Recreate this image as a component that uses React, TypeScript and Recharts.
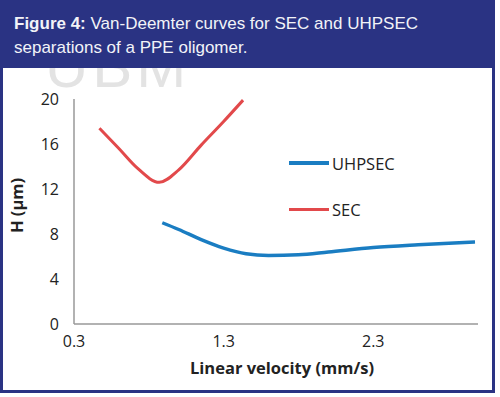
import { LineChart, Line, XAxis, YAxis } from "recharts";

// SEC curve (linear velocity mm/s, H µm)
const SEC_X = [0.47, 0.6, 0.72, 0.87, 1.0, 1.15, 1.3, 1.43];
const SEC_H = [17.4, 15.6, 13.9, 12.6, 13.7, 15.9, 18.0, 19.9];

// UHPSEC curve
const UHP_X = [0.89, 1.0, 1.15, 1.3, 1.45, 1.6, 1.8, 2.0, 2.3, 2.6, 2.98];
const UHP_H = [9.0, 8.4, 7.5, 6.75, 6.25, 6.1, 6.15, 6.4, 6.8, 7.05, 7.3];

const X_TICKS = [0.3, 1.3, 2.3];
const Y_TICKS = [0, 4, 8, 12, 16, 20];

const SERIES = [
  { name: "UHPSEC", color: "#1a7dc2", width: 3.5 },
  { name: "SEC", color: "#e2494b", width: 3 },
];

const secData = SEC_X.map((x, i) => ({ x, h: SEC_H[i] }));
const uhpData = UHP_X.map((x, i) => ({ x, h: UHP_H[i] }));

const FRAME = "#2a3383";
const TICK_STYLE = { fontSize: 16, fill: "#222", fontFamily: "Open Sans" };

function LegendBox() {
  return (
    <div style={{ fontFamily: "Open Sans", fontSize: 16.5, color: "#222" }}>
      {SERIES.map((s, i) => (
        <div
          key={s.name}
          style={{ display: "flex", alignItems: "center", height: 24, marginBottom: i === 0 ? 22 : 0 }}
        >
          <span
            style={{
              display: "inline-block",
              width: 40,
              height: s.width,
              background: s.color,
              marginRight: 3,
            }}
          />
          <span>{s.name}</span>
        </div>
      ))}
    </div>
  );
}

export default function App() {
  return (
    <div
      style={{
        position: "absolute",
        left: 0,
        top: 0,
        width: 500,
        height: 397,
        background: "#fff",
        overflow: "hidden",
      }}
    >
      <div
        style={{
          position: "absolute",
          left: 0,
          top: 0,
          width: 495,
          height: 393,
          background: FRAME,
        }}
      />
      <div
        style={{
          position: "absolute",
          left: 3,
          top: 68,
          width: 489,
          height: 322,
          background: "#fff",
          overflow: "hidden",
        }}
      >
        {/* faint watermark, only visible on the white panel */}
        <svg width={489} height={40} style={{ position: "absolute", left: 0, top: 0 }}>
          <text
            x={42}
            y={19}
            fontFamily="Liberation Sans, Arial, sans-serif"
            fontSize={60}
            letterSpacing={4}
            fill="#e3e3e3"
          >
            UBM
          </text>
        </svg>
      </div>
      <div
        style={{
          position: "absolute",
          left: 14,
          top: 12,
          color: "#f2f3f8",
          fontFamily: "Liberation Sans, Arial, sans-serif",
          fontSize: 17,
          lineHeight: "24px",
        }}
      >
        <b>Figure 4:</b> Van-Deemter curves for SEC and UHPSEC
        <br />
        separations of a PPE oligomer.
      </div>
      <div style={{ position: "absolute", left: 0, top: 80 }}>
        <LineChart
          width={495}
          height={310}
          margin={{ top: 19, right: 17, left: 0, bottom: 36 }}
        >
          <XAxis
            dataKey="x"
            type="number"
            domain={[0.3, 3.0]}
            ticks={X_TICKS}
            tickFormatter={(v: number) => v.toFixed(1)}
            allowDuplicatedCategory={false}
            tick={TICK_STYLE}
            tickLine={false}
            axisLine={{ stroke: "#999", strokeWidth: 1.5 }}
            tickMargin={6}
            height={30}
            label={{
              value: "Linear velocity (mm/s)",
              position: "insideBottom",
              offset: -20,
              dx: 6,
              style: { fontSize: 16.5, fontWeight: 700, fill: "#222", fontFamily: "Open Sans" },
            }}
          />
          <YAxis
            dataKey="h"
            type="number"
            domain={[0, 20]}
            ticks={Y_TICKS}
            tick={TICK_STYLE}
            tickLine={false}
            axisLine={{ stroke: "#999", strokeWidth: 1.5 }}
            tickMargin={9}
            width={74}
            label={{
              value: "H (µm)",
              angle: -90,
              position: "insideLeft",
              offset: 17,
              dy: -6,
              style: { fontSize: 16.5, fontWeight: 700, fill: "#222", fontFamily: "Open Sans", textAnchor: "middle" },
            }}
          />
          <Line
            data={uhpData}
            dataKey="h"
            name="UHPSEC"
            type="monotone"
            stroke={SERIES[0].color}
            strokeWidth={SERIES[0].width}
            dot={false}
            isAnimationActive={false}
          />
          <Line
            data={secData}
            dataKey="h"
            name="SEC"
            type="monotone"
            stroke={SERIES[1].color}
            strokeWidth={SERIES[1].width}
            dot={false}
            isAnimationActive={false}
          />
        </LineChart>
      </div>
      <div style={{ position: "absolute", left: 289, top: 151 }}>
        <LegendBox />
      </div>
    </div>
  );
}
